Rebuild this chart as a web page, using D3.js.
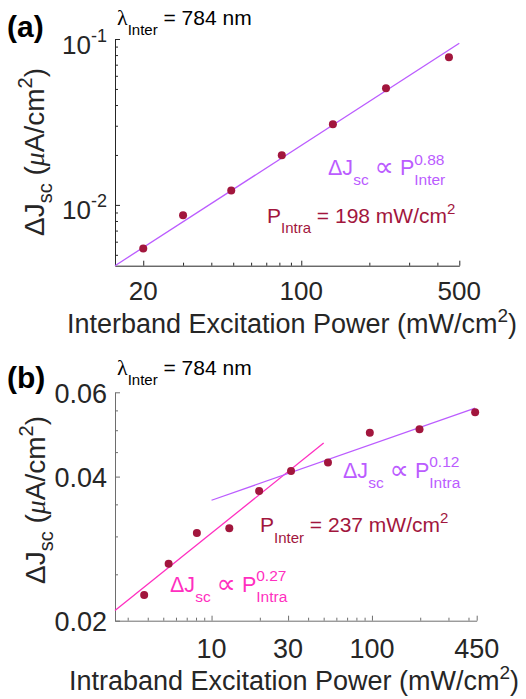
<!DOCTYPE html>
<html><head><meta charset="utf-8">
<script src="https://cdn.jsdelivr.net/npm/d3@7"></script>
<style>body{margin:0;background:#fff} text{white-space:pre}</style>
</head><body>
<svg id="c" width="526" height="699"></svg>
<script>
// ---------- data ----------
// panel (a): interband power sweep
const interPowerA = [20, 30, 49, 82, 138, 237, 450];
const jscA = [0.00545, 0.00867, 0.0122, 0.0199, 0.0306, 0.0505, 0.0776];
const fitAPower = [15, 500];
const fitAJsc = [0.0043, 0.0942];
const tickAX = [20, 100, 500];
const tickAXLabels = ["20", "100", "500"];
const tickAY = [0.01, 0.1];
const tickAYExp = ["-2", "-1"];
const minorAX = [30, 40, 50, 60, 70, 80, 90, 200, 300, 400];
const minorAY = [0.005, 0.006, 0.007, 0.008, 0.009, 0.02, 0.03, 0.04, 0.05, 0.06, 0.07, 0.08, 0.09];
// panel (b): intraband power sweep
const intraPowerB = [3.8, 5.4, 8.1, 12.9, 19.8, 31.3, 53.2, 97, 198, 440];
const jscB = [0.02264, 0.0263, 0.0305, 0.0312, 0.0373, 0.0411, 0.0428, 0.0494, 0.0502, 0.0545];
const fitB1Power = [2.5, 50];
const fitB1Jsc = [0.021, 0.047];
const fitB2Power = [10, 440];
const fitB2Jsc = [0.0357, 0.0556];
const tickBX = [10, 30, 100, 450];
const tickBXLabels = ["10", "30", "100", "450"];
const tickBY = [0.02, 0.04, 0.06];
const tickBYLabels = ["0.02", "0.04", "0.06"];
const minorBX = [3, 4, 5, 6, 7, 8, 9, 20, 40, 50, 60, 70, 80, 90, 200, 300, 400];
const minorBY = [0.025, 0.03, 0.035, 0.045, 0.05, 0.055];

// ---------- style ----------
const FONT = "'Liberation Sans', Arial, sans-serif";
const SERIF = "'Liberation Serif', 'DejaVu Serif', serif";
const SYM = "'DejaVu Sans', sans-serif";
const C_PT = "#a2163d", C_VIO = "#bb5cff", C_PINK = "#ff2fc0", C_TXT = "#262626";

const svg = d3.select("#c");

function rich(parent, x, y, pieces, o) {
  const g = parent.append("g");
  let cx = 0, stackStart = 0;
  pieces.forEach(p => {
    const startX = p.stack ? stackStart : cx;
    if (!p.stack) stackStart = cx;
    const t = g.append("text")
      .attr("xml:space", "preserve")
      .attr("x", startX).attr("y", p.dy || 0)
      .attr("font-size", p.fs || o.fs)
      .attr("fill", p.fill || o.fill || C_TXT)
      .attr("font-family", p.family || o.family || FONT)
      .attr("font-weight", p.weight || o.weight || "normal")
      .attr("font-style", p.style || "normal")
      .text(p.t);
    const w = t.node().getComputedTextLength();
    cx = p.stack ? Math.max(cx, startX + w) : startX + w;
  });
  const a = o.anchor || "start";
  const shift = a === "end" ? cx : a === "middle" ? cx / 2 : 0;
  g.attr("transform", `translate(${x - shift},${y})`);
  return g;
}

function panel(cfg) {
  const x = d3.scaleLog().domain(cfg.xDom).range(cfg.xRange);
  const y = d3.scaleLog().domain(cfg.yDom).range(cfg.yRange);
  const g = svg.append("g");
  const axCol = cfg.axisColor;
  const gx = g.append("g").attr("transform", `translate(0,${cfg.yRange[0]})`);
  gx.call(d3.axisBottom(x).tickValues(cfg.xMajor).tickSizeInner(-5).tickSizeOuter(0).tickFormat(""));
  const gxm = g.append("g").attr("transform", `translate(0,${cfg.yRange[0]})`);
  gxm.call(d3.axisBottom(x).tickValues(cfg.xMinor).tickSizeInner(-3).tickSizeOuter(0).tickFormat(""));
  gxm.select(".domain").remove();
  const gy = g.append("g").attr("transform", `translate(${cfg.xRange[0]},0)`);
  gy.call(d3.axisLeft(y).tickValues(cfg.yMajor).tickSizeInner(-5).tickSizeOuter(0).tickFormat(""));
  const gym = g.append("g").attr("transform", `translate(${cfg.xRange[0]},0)`);
  gym.call(d3.axisLeft(y).tickValues(cfg.yMinor).tickSizeInner(-3).tickSizeOuter(0).tickFormat(""));
  gym.select(".domain").remove();
  g.selectAll(".domain, .tick line").attr("stroke", axCol).attr("stroke-width", 1);
  return {x, y, g};
}

function propLabel(x, y, exp, sub, col) {
  return rich(svg, x, y, [{t: "ΔJ"}, {t: "sc", fs: 15.5, dy: 10}, {t: " "}, {t: "∝", family: SYM, fs: 27, dy: 1}, {t: " P"},
    {t: exp, fs: 15.5, dy: -10.5}, {t: sub, fs: 15.5, dy: 10, stack: true}], {fs: 21.5, fill: col});
}

// ---------- panel (a) ----------
const A = panel({xDom: [15, 500], xRange: [115, 459.3], yDom: [0.0043, 0.1], yRange: [265.7, 39],
  xMajor: tickAX, xMinor: minorAX, yMajor: tickAY, yMinor: minorAY, axisColor: "#262626"});

A.g.append("path").datum(fitAPower.map((p, i) => [p, fitAJsc[i]]))
  .attr("d", d3.line().x(d => A.x(d[0])).y(d => A.y(d[1])))
  .attr("fill", "none").attr("stroke", C_VIO).attr("stroke-width", 1.3);
A.g.selectAll("circle").data(interPowerA).join("circle")
  .attr("cx", d => A.x(d)).attr("cy", (d, i) => A.y(jscA[i])).attr("r", 4).attr("fill", C_PT);

tickAX.forEach((v, i) => rich(svg, A.x(v), 300, [{t: tickAXLabels[i]}], {fs: 26, anchor: "middle"}));
tickAY.forEach((v, i) => rich(svg, 107, A.y(v) + 14.5, [{t: "10"}, {t: tickAYExp[i], fs: 18, dy: -12}], {fs: 26, anchor: "end"}));

rich(svg, 292, 333, [{t: "Interband Excitation Power (mW/cm"}, {t: "2", fs: 19, dy: -11}, {t: ")"}], {fs: 27, anchor: "middle"});
const ytA = svg.append("g").attr("transform", "translate(44,152) rotate(-90)");
rich(ytA, 0, 0, [{t: "ΔJ"}, {t: "sc", fs: 20, dy: 8}, {t: " ("}, {t: "μ", family: SERIF, style: "italic"}, {t: "A/cm"}, {t: "2", fs: 20, dy: -12}, {t: ")"}], {fs: 28, anchor: "middle"});

rich(svg, 7, 37, [{t: "(a)"}], {fs: 30, weight: "bold", fill: "#000"});
rich(svg, 117, 25, [{t: "λ", family: SERIF, fs: 22}, {t: "Inter", fs: 15, dy: 10}, {t: " = 784 nm"}], {fs: 21, fill: "#000"});

propLabel(328, 175, "0.88", "Inter", C_VIO);
rich(svg, 267, 223, [{t: "P"}, {t: "Intra", fs: 15, dy: 10}, {t: " = 198 mW/cm"}, {t: "2", fs: 15, dy: -9}], {fs: 21, fill: C_PT});

// ---------- panel (b) ----------
const B = panel({xDom: [2.5, 450], xRange: [115, 476.7], yDom: [0.02, 0.06], yRange: [620.7, 392.3],
  xMajor: tickBX, xMinor: minorBX, yMajor: tickBY, yMinor: minorBY, axisColor: "#6e6e6e"});

[[fitB1Power, fitB1Jsc, C_PINK], [fitB2Power, fitB2Jsc, C_VIO]].forEach(([px, py, col]) => {
  B.g.append("path").datum(px.map((p, i) => [p, py[i]]))
    .attr("d", d3.line().x(d => B.x(d[0])).y(d => B.y(d[1])))
    .attr("fill", "none").attr("stroke", col).attr("stroke-width", 1.3);
});
B.g.selectAll("circle").data(intraPowerB).join("circle")
  .attr("cx", d => B.x(d)).attr("cy", (d, i) => B.y(jscB[i])).attr("r", 4).attr("fill", C_PT);

tickBX.forEach((v, i) => rich(svg, B.x(v), 658, [{t: tickBXLabels[i]}], {fs: 27, anchor: "middle"}));
tickBY.forEach((v, i) => rich(svg, 107, B.y(v) + 10.5, [{t: tickBYLabels[i]}], {fs: 27, anchor: "end"}));

rich(svg, 294, 690, [{t: "Intraband Excitation Power (mW/cm"}, {t: "2", fs: 19, dy: -11}, {t: ")"}], {fs: 27, anchor: "middle"});
const ytB = svg.append("g").attr("transform", "translate(45,500) rotate(-90)");
rich(ytB, 0, 0, [{t: "ΔJ"}, {t: "sc", fs: 20, dy: 8}, {t: " ("}, {t: "μ", family: SERIF, style: "italic"}, {t: "A/cm"}, {t: "2", fs: 20, dy: -12}, {t: ")"}], {fs: 28, anchor: "middle"});

rich(svg, 7, 388, [{t: "(b)"}], {fs: 30, weight: "bold", fill: "#000"});
rich(svg, 117, 375, [{t: "λ", family: SERIF, fs: 22}, {t: "Inter", fs: 15, dy: 10}, {t: " = 784 nm"}], {fs: 21, fill: "#000"});

propLabel(343, 477.5, "0.12", "Intra", C_VIO);
rich(svg, 260, 532, [{t: "P"}, {t: "Inter", fs: 15, dy: 11}, {t: " = 237 mW/cm"}, {t: "2", fs: 15, dy: -9}], {fs: 21, fill: C_PT});
propLabel(170, 591.7, "0.27", "Intra", C_PINK);
</script>
</body></html>
